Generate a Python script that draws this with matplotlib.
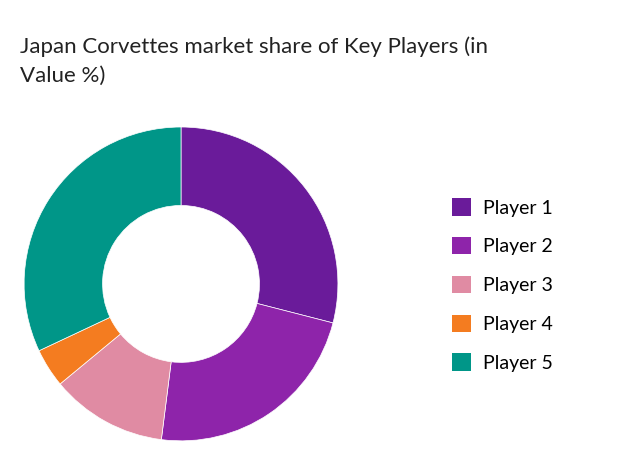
import matplotlib
matplotlib.use("Agg")
import matplotlib.pyplot as plt
from matplotlib.patches import Patch

players = ["Player 1", "Player 2", "Player 3", "Player 4", "Player 5"]
shares = [29, 23, 12, 4, 32]
colors = ["#6a1b9a", "#8e24aa", "#e08ba3", "#f47c20", "#009688"]

plt.rcParams['font.family'] = ['Lato', 'DejaVu Sans']
fig = plt.figure(figsize=(6.34, 4.55), dpi=100)
ax = fig.add_axes([0.038, 0.031, 0.495, 0.69])
ax.pie(shares, colors=colors, startangle=90, counterclock=False,
       wedgeprops=dict(width=0.5, edgecolor='white', linewidth=0.5))
ax.set_xlim(-1.0, 1.0)
ax.set_ylim(-1.0, 1.0)
ax.set_aspect('equal')

fig.text(20/634, 1-61/455, "Japan Corvettes market share of Key Players (in\nValue %)",
         fontsize=16, color='#222222', va='center', ha='left', linespacing=1.55)

handles = [Patch(facecolor=c) for c in colors]
fig.legend(handles, players, loc='center left', bbox_to_anchor=(0.685, 1-285/455),
           frameon=False, fontsize=14, labelspacing=1.05, handlelength=1.0,
           handleheight=1.0, handletextpad=0.6)

fig.savefig("out.png", dpi=100)
